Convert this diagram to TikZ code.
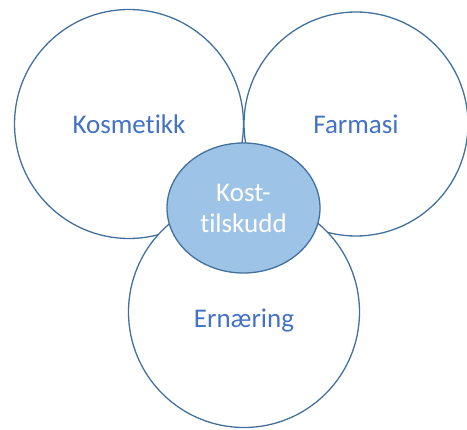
\documentclass[tikz,border=0pt]{standalone}
\usepackage{fontspec}
\setmainfont{Carlito}[Ligatures=NoCommon]
\usepackage{tikz}
\usetikzlibrary{shapes.geometric}

\definecolor{ringblue}{HTML}{41719C}
\definecolor{textblue}{HTML}{4472C4}
\definecolor{fillblue}{HTML}{9DC3E6}

\begin{document}
\begin{tikzpicture}[x = 1pt, y = -1pt, line width = 1.3pt,
                        area/.style = {circle, draw = ringblue, fill = white, text = textblue,
                                       font = \fontsize{27}{32}\selectfont},
                        core/.style = {ellipse, draw = ringblue, fill = fillblue, text = white,
                                       align = center, inner sep = 0pt,
                                       font = \fontsize{27}{31}\selectfont}]
      \useasboundingbox (0, 0) rectangle (467, 430);
      \node [area, minimum size = 229pt] (kos) at (129, 124){Kosmetikk};
      \node [area, minimum size = 224pt] (far) at (356, 124){Farmasi};
      \node [area, minimum size = 231pt] (ern) at (244, 312){\raisebox{-16pt}[0pt][0pt]{Ernæring}};
      \node [core, minimum width = 153pt, minimum height = 130pt] (kost) at (243.5, 208){Kost-\\tilskudd};
    \end{tikzpicture}
\end{document}
